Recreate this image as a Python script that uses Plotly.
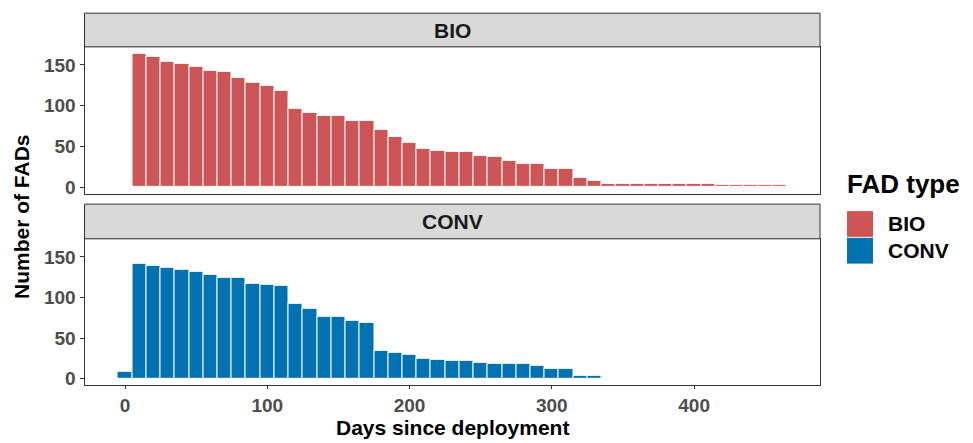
import plotly.graph_objects as go

# ---- data (10-day bins, centred on bin start) ----
bio_days = [0, 10, 20, 30, 40, 50, 60, 70, 80, 90, 100, 110, 120, 130, 140, 150, 160, 170,
            180, 190, 200, 210, 220, 230, 240, 250, 260, 270, 280, 290, 300, 310, 320, 330,
            340, 350, 360, 370, 380, 390, 400, 410, 420, 430, 440, 450, 460]
bio_counts = [1, 164, 160, 154, 151, 148, 143, 141, 134, 128, 124, 118, 96, 91, 87, 87, 82, 81,
              70, 62, 55, 47, 45, 44, 43, 39, 37, 32, 29, 29, 22, 22, 11, 8,
              4, 4, 4, 4, 4, 4, 4, 4, 3, 3, 3, 3, 3]
conv_days = [0, 10, 20, 30, 40, 50, 60, 70, 80, 90, 100, 110, 120, 130, 140, 150, 160, 170,
             180, 190, 200, 210, 220, 230, 240, 250, 260, 270, 280, 290, 300, 310, 320, 330]
conv_counts = [9, 142, 139, 137, 134, 132, 128, 124, 124, 117, 116, 114, 92, 86, 76, 76, 71, 69,
               35, 32, 29, 25, 23, 22, 22, 20, 19, 18, 18, 16, 12, 12, 4, 4]
x_ticks = [0, 100, 200, 300, 400]
y_ticks = [0, 50, 100, 150]
types = ["BIO", "CONV"]
colors = {"BIO": "#CD5555", "CONV": "#0072B2"}

W, H = 973, 443
FONT = "Liberation Sans, Arial, sans-serif"

def py(px):  # pixel from top -> paper y
    return 1 - px / H

def pxx(px):
    return px / W

fig = go.Figure()
fig.add_trace(go.Bar(x=bio_days, y=bio_counts, width=10, xaxis="x", yaxis="y",
                     marker=dict(color=colors["BIO"], line=dict(color="white", width=1)),
                     name="BIO", showlegend=False))
fig.add_trace(go.Bar(x=conv_days, y=conv_counts, width=10, xaxis="x2", yaxis="y2",
                     marker=dict(color=colors["CONV"], line=dict(color="white", width=1)),
                     name="CONV", showlegend=False))

x0, x1 = 84.5, 820.0
top_panel = (47.3, 195.7)
bot_panel = (241.0, 389.0)
top_strip = (13.3, 47.3)
bot_strip = (206.0, 241.0)

xr = [-28.5, 488.5]
yr = [-8.2, 172.2]
tickfont = dict(family=FONT, size=19, color="#4D4D4D", weight="bold")

common_x = dict(range=xr, showgrid=False, zeroline=False, showline=True, linecolor="#333333",
                linewidth=1, mirror=True, tickvals=x_ticks, tickfont=tickfont,
                domain=[pxx(x0), pxx(x1)], ticklen=3, tickcolor="#333333")
common_y = dict(range=yr, showgrid=False, zeroline=False, showline=True, linecolor="#333333",
                linewidth=1, mirror=True, tickvals=y_ticks, tickfont=tickfont,
                ticks="outside", ticklen=4, tickcolor="#333333")

fig.update_layout(
    width=W, height=H, margin=dict(l=0, r=0, t=0, b=0),
    paper_bgcolor="white", plot_bgcolor="white", bargap=0,
    xaxis=dict(common_x, anchor="y", showticklabels=False, ticks=""),
    yaxis=dict(common_y, anchor="x", domain=[py(top_panel[1]), py(top_panel[0])]),
    xaxis2=dict(common_x, anchor="y2", matches="x", ticks="outside"),
    yaxis2=dict(common_y, anchor="x2", domain=[py(bot_panel[1]), py(bot_panel[0])]),
)

shapes = []
annotations = []
for (s0, s1), lab in zip([top_strip, bot_strip], types):
    shapes.append(dict(type="rect", xref="paper", yref="paper", x0=pxx(x0), x1=pxx(x1),
                       y0=py(s1), y1=py(s0), fillcolor="#D9D9D9",
                       line=dict(color="#333333", width=1), layer="above"))
    annotations.append(dict(text=lab, xref="paper", yref="paper", x=pxx((x0 + x1) / 2),
                            y=py((s0 + s1) / 2), showarrow=False, xanchor="center", yanchor="middle",
                            font=dict(family=FONT, size=21, color="#1A1A1A", weight="bold")))

# axis titles
annotations.append(dict(text="Days since deployment", xref="paper", yref="paper",
                        x=pxx((x0 + x1) / 2), y=0, showarrow=False,
                        xanchor="center", yanchor="bottom", yshift=-2,
                        font=dict(family=FONT, size=21, color="black", weight="bold")))
annotations.append(dict(text="Number of FADs", xref="paper", yref="paper",
                        x=pxx(21), y=py(219), showarrow=False,
                        textangle=-90, xanchor="center", yanchor="middle",
                        font=dict(family=FONT, size=21, color="black", weight="bold")))

# legend
annotations.append(dict(text="FAD type", xref="paper", yref="paper", x=pxx(845), y=py(186),
                        showarrow=False, xanchor="left", yanchor="middle",
                        font=dict(family=FONT, size=26, color="black", weight="bold")))
key_rows = [(213.0, 239.0), (240.0, 266.0)]
for (k0, k1), lab in zip(key_rows, types):
    shapes.append(dict(type="rect", xref="paper", yref="paper", x0=pxx(847), x1=pxx(873),
                       y0=py(k1), y1=py(k0), fillcolor=colors[lab], line=dict(width=0)))
    annotations.append(dict(text=lab, xref="paper", yref="paper", x=pxx(886),
                            y=py((k0 + k1) / 2), showarrow=False, xanchor="left",
                            yanchor="middle",
                            font=dict(family=FONT, size=21, color="black", weight="bold")))

fig.update_layout(shapes=shapes, annotations=annotations)
fig.write_html("out.html", post_script="document.body.style.margin='0';",
               config={"displayModeBar": False})
